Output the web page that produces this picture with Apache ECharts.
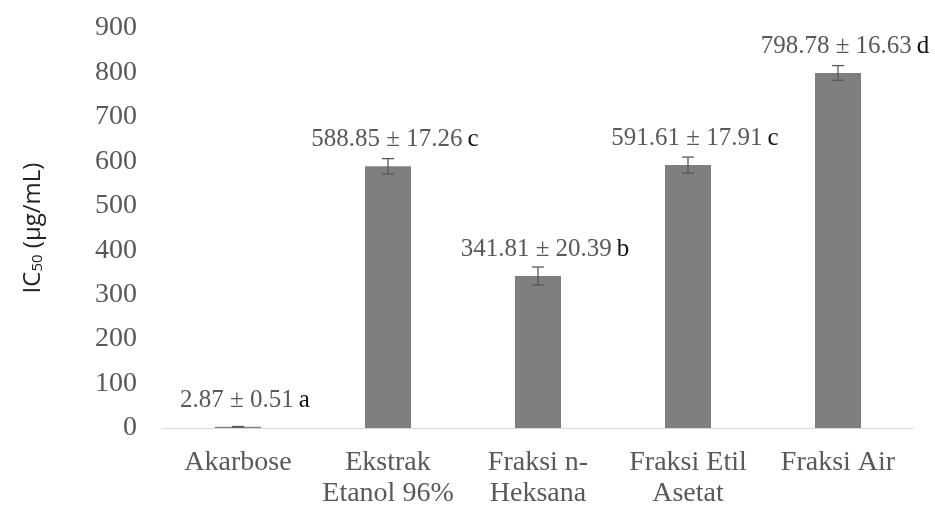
<!DOCTYPE html>
<html>
<head>
<meta charset="utf-8">
<script src="https://cdn.jsdelivr.net/npm/echarts@6/dist/echarts.min.js"></script>
<style>
  html, body { margin: 0; padding: 0; background: #fff; }
  #chart { width: 935px; height: 509px; }
</style>
</head>
<body>
<div id="chart"></div>
<script>
// IC50 values (µg/mL) with standard deviation and significance letters
const categories = ['Akarbose', 'Ekstrak\nEtanol 96%', 'Fraksi n-\nHeksana', 'Fraksi Etil\nAsetat', 'Fraksi Air'];
const ic50 = [2.87, 588.85, 341.81, 591.61, 798.78];
const sd = [0.51, 17.26, 20.39, 17.91, 16.63];
const letters = ['a', 'c', 'b', 'c', 'd'];
const yTicks = { min: 0, max: 900, step: 100 };

const serif = "'Liberation Serif', 'Times New Roman', serif";
const sans = "'Open Sans', sans-serif";
const chart = echarts.init(document.getElementById('chart'));

const errorData = ic50.map((v, i) => [i, v - sd[i], v + sd[i]]);

chart.setOption({
  animation: false,
  grid: { left: 163, right: 22, top: 28, bottom: 81 },
  xAxis: {
    type: 'category',
    data: categories,
    axisLine: { lineStyle: { color: '#d9d9d9', width: 1 } },
    axisTick: { show: false },
    axisLabel: {
      interval: 0,
      fontFamily: serif,
      fontSize: 28,
      lineHeight: 31,
      color: '#595959',
      margin: 19
    }
  },
  yAxis: {
    type: 'value',
    min: yTicks.min,
    max: yTicks.max,
    interval: yTicks.step,
    splitLine: { show: false },
    axisLine: { show: false },
    axisTick: { show: false },
    axisLabel: { fontFamily: serif, fontSize: 28, color: '#595959', margin: 26 },
    name: '{n|IC}{s|50}{n| (µg/mL)}',
    nameLocation: 'middle',
    nameRotate: 90,
    nameGap: 118,
    nameTextStyle: {
      rich: {
        n: { fontFamily: sans, fontSize: 24, color: '#222', lineHeight: 30, verticalAlign: 'bottom' },
        s: { fontFamily: sans, fontSize: 15, color: '#222', lineHeight: 24, verticalAlign: 'bottom' }
      }
    }
  },
  series: [
    {
      type: 'bar',
      data: ic50,
      barWidth: 46,
      itemStyle: { color: '#7f7f7f' },
      label: {
        show: true,
        position: 'top',
        distance: 14,
        offset: [7, 0],
        formatter: p => '{v|' + ic50[p.dataIndex].toFixed(2) + ' ± ' + sd[p.dataIndex].toFixed(2) + '}{l|' + letters[p.dataIndex] + '}',
        rich: {
          v: { fontFamily: serif, fontSize: 25, color: '#595959' },
          l: { fontFamily: serif, fontSize: 25, color: '#111', padding: [0, 0, 0, 5] }
        }
      },
      z: 2
    },
    {
      type: 'custom',
      data: errorData,
      z: 3,
      renderItem: (params, api) => {
        const x = api.value(0);
        const lo = api.coord([x, api.value(1)]);
        const hi = api.coord([x, api.value(2)]);
        const cap = 6;
        const style = { stroke: '#595959', lineWidth: 1.3 };
        return {
          type: 'group',
          children: [
            { type: 'line', shape: { x1: hi[0], y1: hi[1], x2: lo[0], y2: lo[1] }, style },
            { type: 'line', shape: { x1: hi[0] - cap, y1: hi[1], x2: hi[0] + cap, y2: hi[1] }, style },
            { type: 'line', shape: { x1: lo[0] - cap, y1: lo[1], x2: lo[0] + cap, y2: lo[1] }, style }
          ]
        };
      }
    }
  ]
});
</script>
</body>
</html>
